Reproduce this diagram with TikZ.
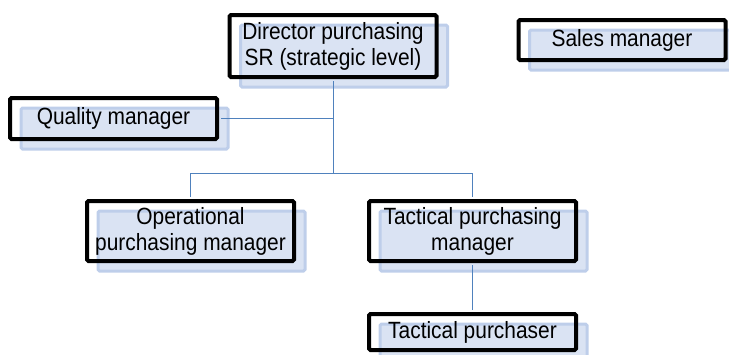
\documentclass[tikz,border=0pt]{standalone}
\usepackage{fontspec}
\setmainfont{Liberation Sans}[FakeStretch=0.89]
\usetikzlibrary{shadows}
\definecolor{boxfill}{RGB}{218,227,243}
\definecolor{boxedge}{RGB}{190,206,234}
\definecolor{linkblue}{RGB}{79,129,189}
\tikzset{
  orgbox/.style={draw=black, line width=4pt, rounded corners=1.5pt,
    minimum width=207pt, inner sep=0pt, align=center,
    font=\fontsize{23.5}{26}\selectfont,
    general shadow={fill=boxfill, draw=boxedge, line width=3pt,
      shadow xshift=11pt, shadow yshift=-10pt}},
  link/.style={draw=linkblue, line width=1pt}
}

\begin{document}
\begin{tikzpicture}[x=1pt,y=-1pt]
\useasboundingbox (0,0) rectangle (729,354);
\node[orgbox,minimum height=62pt] (director) at (333,46) {Director purchasing\\SR (strategic level)};
\node[orgbox,minimum height=40pt] (sales) at (622,40) {Sales manager};
\node[orgbox,minimum height=41pt] (quality) at (113.5,118.5) {Quality manager};
\node[orgbox,minimum height=60pt] (oper) at (190.5,231) {Operational\\purchasing manager};
\node[orgbox,minimum height=60pt] (tacman) at (472.5,231) {Tactical purchasing\\manager};
\node[orgbox,minimum height=36pt] (tacpur) at (472.5,332) {Tactical purchaser};
\coordinate (split) at (333,173);
% connectors
\draw[link,shorten <=2pt] (director.south) -- (split);
\draw[link,shorten <=2pt] (quality.east) -- (quality.east -| split);
\draw[link,shorten <=2pt,shorten >=2pt] (oper.north) -- (oper.north |- split)
  -- (tacman.north |- split) -- (tacman.north);
\draw[link,shorten <=2pt,shorten >=2pt] (tacman.south) -- (tacpur.north);
\end{tikzpicture}
\end{document}
